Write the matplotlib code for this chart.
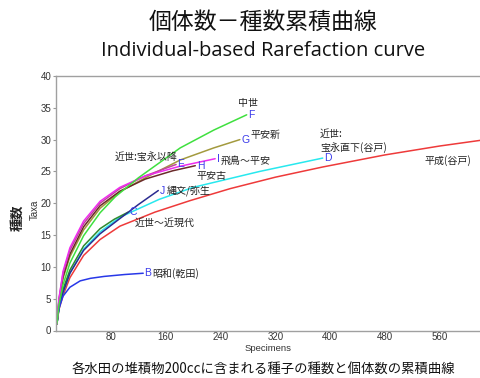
import matplotlib
matplotlib.use("Agg")
import matplotlib.pyplot as plt

plt.rcParams['font.family'] = ['Noto Sans CJK JP', 'DejaVu Sans']

# Rarefaction curves: specimens (x) vs expected taxa (y)
x_F = [1, 4, 10, 20, 40, 64, 86, 120, 181, 230, 278]
y_F = [1, 4.0, 7.2, 10.6, 14.9, 18.5, 21.0, 24.0, 28.7, 31.5, 33.9]
x_G = [1, 4, 10, 20, 40, 64, 93, 130, 181, 230, 268]
y_G = [1, 4.5, 8.2, 11.6, 15.8, 19.2, 21.8, 24.0, 26.8, 28.7, 30.0]
x_I = [1, 4, 10, 20, 40, 64, 93, 130, 180, 232]
y_I = [1, 5.0, 9.3, 13.0, 17.2, 20.3, 22.5, 24.3, 25.8, 27.0]
x_E = [1, 4, 10, 20, 40, 64, 93, 130, 175]
y_E = [1, 4.9, 9.0, 12.6, 16.8, 20.0, 22.3, 24.3, 26.1]
x_H = [1, 4, 10, 20, 40, 64, 93, 130, 170, 203]
y_H = [1, 4.7, 8.5, 12.0, 16.3, 19.6, 21.9, 23.8, 25.1, 25.9]
x_J = [1, 4, 10, 20, 40, 64, 93, 120, 149]
y_J = [1, 3.5, 6.0, 9.0, 12.6, 15.2, 17.6, 19.8, 22.0]
x_C = [1, 4, 10, 20, 40, 64, 85, 105]
y_C = [1, 3.8, 6.5, 9.5, 13.3, 16.0, 17.5, 18.6]
x_D = [1, 4, 10, 20, 40, 64, 93, 150, 200, 297, 389]
y_D = [1, 3.5, 6.0, 9.0, 12.8, 15.5, 17.8, 20.6, 22.5, 25.0, 27.1]
x_R = [1, 4, 10, 20, 40, 64, 93, 144, 195, 254, 320, 389, 480, 560, 620]
y_R = [1, 3.3, 5.5, 8.3, 11.8, 14.3, 16.4, 18.6, 20.4, 22.3, 24.1, 25.7, 27.6, 29.0, 29.9]
x_B = [1, 3, 5, 10, 20, 35, 50, 70, 100, 127]
y_B = [1, 2.8, 3.8, 5.4, 6.8, 7.8, 8.2, 8.5, 8.8, 9.0]

x_ticks = [80, 160, 240, 320, 400, 480, 560]
y_ticks = [0, 5, 10, 15, 20, 25, 30, 35, 40]

series = [
    (x_R, y_R, "#ee3a3a", None),
    (x_D, y_D, "#28e8ee", "D"),
    (x_C, y_C, "#2f8a2f", "C"),
    (x_J, y_J, "#2b2b90", "J"),
    (x_B, y_B, "#2838e8", "B"),
    (x_G, y_G, "#a39a3e", "G"),
    (x_H, y_H, "#6a2a2a", "H"),
    (x_E, y_E, "#c0459a", "E"),
    (x_I, y_I, "#ee2cee", "I"),
    (x_F, y_F, "#3fe03f", "F"),
]

fig = plt.figure(figsize=(4.81, 3.78), dpi=100)
ax = fig.add_axes([56.2 / 481, 1 - 330.5 / 378, 1 - 56.2 / 481, 254.5 / 378])

for xs, ys, col, letter in series:
    ax.plot(xs, ys, color=col, lw=1.1, solid_capstyle='round', solid_joinstyle='round')
    if letter:
        ax.annotate(letter, (xs[-1], ys[-1]), xytext=(1.0, 0), textcoords='offset points',
                    ha='left', va='center', fontsize=7.5, color='#3b3bea',
                    family=['Liberation Sans', 'DejaVu Sans'])

ax.set_xlim(0, 620)
ax.set_ylim(0, 40)
ax.set_xticks(x_ticks)
ax.set_yticks(y_ticks)
for lab in ax.get_xticklabels() + ax.get_yticklabels():
    lab.set_family(['Liberation Sans', 'DejaVu Sans'])
    lab.set_fontsize(7)
    lab.set_color('#333333')
ax.tick_params(axis='x', length=0, pad=1.0)
ax.tick_params(axis='y', length=2, pad=1.5, color='#999999')
for s in ['left', 'top', 'bottom']:
    ax.spines[s].set_color('#a0a0a0')
    ax.spines[s].set_linewidth(1.0)
ax.spines['right'].set_visible(False)

fig.text(268 / 481, 1 - 348.5 / 378, "Specimens", ha='center', va='center',
         fontsize=6.8, color='#333333', family=['Liberation Sans', 'DejaVu Sans'])

# period labels
jp = dict(fontsize=7.2, color='#222222', va='center')
def px(x, y):
    return ((x - 56.2) / 0.6854, (330.5 - y) / 6.35)

ax.text(*px(238, 103), "中世", ha='left', **jp)
ax.text(*px(251, 135), "平安新", ha='left', **jp)
ax.text(*px(221, 161), "飛鳥～平安", ha='left', **jp)
ax.text(*px(115, 157), "近世:宝永以降", ha='left', **jp)
ax.text(*px(197, 176), "平安古", ha='left', **jp)
ax.text(*px(167, 191), "縄文/弥生", ha='left', **jp)
ax.text(*px(135, 223), "近世～近現代", ha='left', **jp)
ax.text(*px(152, 274), "昭和(乾田)", ha='left', **jp)
ax.text(*px(320, 134), "近世:", ha='left', **jp)
ax.text(*px(320, 148), "宝永直下(谷戸)", ha='left', **jp)
ax.text(*px(425, 161), "平成(谷戸)", ha='left', **jp)

fig.text(35 / 481, 1 - 210 / 378, "Taxa", rotation=90, ha='center', va='center',
         fontsize=7, color='#333333', family=['Liberation Sans', 'DejaVu Sans'])
fig.text(17 / 481, 1 - 218 / 378, "種数", rotation=90, ha='center', va='center',
         fontsize=9.5, fontweight='bold', color='#222222')

fig.text(263 / 481, 1 - 22 / 378, "個体数－種数累積曲線", ha='center', va='center',
         fontsize=16.5, color='#111111')
fig.text(263 / 481, 1 - 51 / 378, "Individual-based Rarefaction curve", ha='center', va='center',
         fontsize=14.5, color='#111111', family=['Open Sans', 'DejaVu Sans'])
fig.text(263 / 481, 1 - 369 / 378, "各水田の堆積物200ccに含まれる種子の種数と個体数の累積曲線",
         ha='center', va='center', fontsize=9.6, color='#111111')

fig.savefig("out.png", dpi=100)
